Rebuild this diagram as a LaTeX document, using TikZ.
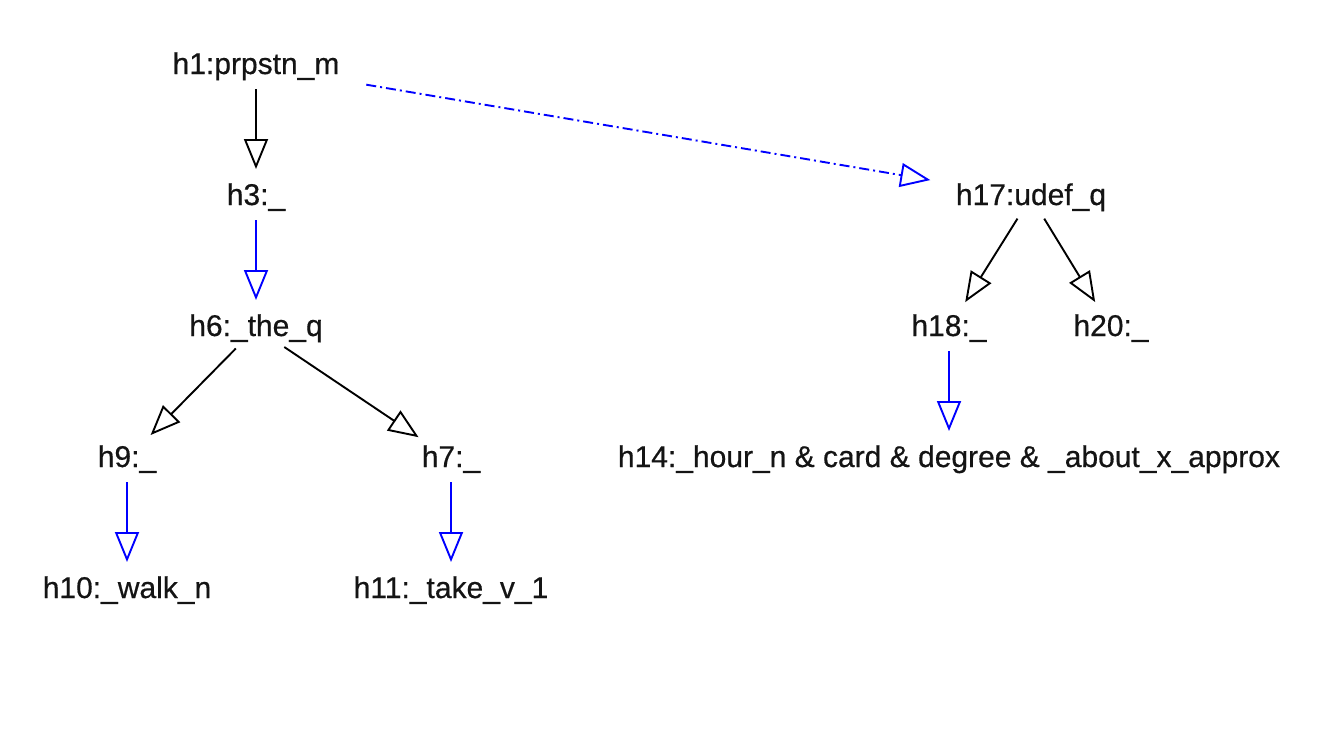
\documentclass[tikz,border=0pt]{standalone}
\usepackage{fontspec}
\setmainfont{Liberation Sans}
\newfontfamily\hfont[FakeBold=0.5]{Liberation Sans}
\usetikzlibrary{arrows.meta,positioning}

\begin{document}
\begin{tikzpicture}[
  x=1pt,y=1pt,
  font=\hfont\fontsize{30}{34}\selectfont,
  hnode/.style={inner sep=0pt,outer sep=0pt,text height=22pt,text depth=6pt,text=black!92},
  link/.style={-{Triangle[open,length=30pt,width=24pt,fill=white]},line width=1.9pt,shorten <=9pt,shorten >=14pt},
  qeq/.style={link,blue},
  arg/.style={link,black}
]
\useasboundingbox[fill=white] (0,0) rectangle (1319,-742);
\node[hnode] (h1) at (256,-66) {h1:prpstn\_m};
\node[hnode,below=103pt of h1] (h3) {h3:\_};
\node[hnode,below=103pt of h3] (h6) {h6:\_the\_q};
\node[hnode,below=103pt of h6,xshift=-129pt] (h9) {h9:\_};
\node[hnode,below=103pt of h6,xshift=195pt] (h7) {h7:\_};
\node[hnode,below=103pt of h9] (h10) {h10:\_walk\_n};
\node[hnode,below=103pt of h7] (h11) {h11:\_take\_v\_1};
\node[hnode,below=103pt of h1,xshift=775pt] (h17) {h17:udef\_q};
\node[hnode,below=103pt of h17,xshift=-82pt] (h18) {h18:\_};
\node[hnode,below=103pt of h17,xshift=80pt] (h20) {h20:\_};
\node[hnode,below=103pt of h18] (h14) {h14:\_hour\_n \& card \& degree \& \_about\_x\_approx};
\draw[arg] (h1) -- (h3);
\draw[qeq] (h3) -- (h6);
\draw[arg] (h6) -- (h9);
\draw[arg] (h6) -- (h7);
\draw[qeq] (h9) -- (h10);
\draw[qeq] (h7) -- (h11);
\draw[qeq,dash pattern=on 10pt off 4pt on 2pt off 4pt,shorten <=28pt,shorten >=26pt] (h1) -- (h17);
\draw[arg] (h17) -- (h18);
\draw[arg] (h17) -- (h20);
\draw[qeq] (h18) -- (h14);
\end{tikzpicture}
\end{document}
